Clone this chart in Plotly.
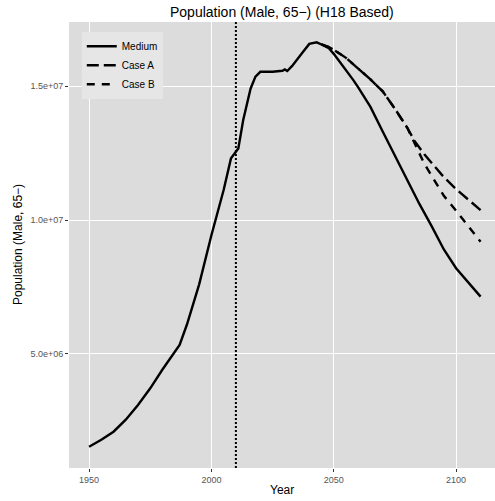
import plotly.graph_objects as go

# Male population aged 65 and over, H18-based projections
medium_years = [1950, 1955, 1960, 1965, 1970, 1975, 1980, 1985, 1987, 1990, 1995,
                2000, 2005, 2008, 2010, 2011, 2013, 2015, 2016, 2018, 2020, 2025,
                2029, 2030, 2031, 2033, 2035, 2037, 2040, 2043, 2045, 2048, 2050,
                2055, 2058, 2060, 2065, 2070, 2075, 2080, 2085, 2090, 2095, 2100,
                2105, 2110]
medium_pop = [1.54e6, 1.80e6, 2.10e6, 2.55e6, 3.10e6, 3.72e6, 4.42e6, 5.05e6, 5.34e6,
              6.10e6, 7.60e6, 9.43e6, 1.112e7, 1.23e7, 1.255e7, 1.267e7, 1.373e7,
              1.445e7, 1.49e7, 1.535e7, 1.553e7, 1.553e7, 1.557e7, 1.562e7, 1.556e7,
              1.575e7, 1.60e7, 1.622e7, 1.657e7, 1.663e7, 1.655e7, 1.641e7, 1.62e7,
              1.56e7, 1.522e7, 1.495e7, 1.422e7, 1.33e7, 1.24e7, 1.15e7, 1.06e7,
              9.77e6, 8.90e6, 8.20e6, 7.68e6, 7.14e6]

case_years = [2045, 2048, 2050, 2055, 2060, 2065, 2070, 2075, 2080, 2083, 2087,
              2090, 2095, 2100, 2105, 2110]
case_a_pop = [1.655e7, 1.645e7, 1.635e7, 1.605e7, 1.565e7, 1.525e7, 1.48e7, 1.415e7,
              1.345e7, 1.295e7, 1.245e7, 1.213e7, 1.16e7, 1.115e7, 1.075e7, 1.037e7]
case_b_pop = [1.655e7, 1.645e7, 1.635e7, 1.605e7, 1.565e7, 1.525e7, 1.48e7, 1.415e7,
              1.345e7, 1.285e7, 1.21e7, 1.165e7, 1.09e7, 1.035e7, 9.75e6, 9.19e6]

base_year = 2010
x_ticks = [1950, 2000, 2050, 2100]
y_ticks = [5.0e6, 1.0e7, 1.5e7]
y_tick_text = ["5.0e+06", "1.0e+07", "1.5e+07"]

FONT = "Liberation Sans, Arial, sans-serif"

fig = go.Figure()
fig.add_trace(go.Scatter(x=medium_years, y=medium_pop, mode="lines", name="Medium",
                         line=dict(color="black", width=2.4)))
fig.add_trace(go.Scatter(x=case_years, y=case_a_pop, mode="lines", name="Case A",
                         line=dict(color="black", width=2.4, dash="12px,5px")))
fig.add_trace(go.Scatter(x=case_years, y=case_b_pop, mode="lines", name="Case B",
                         line=dict(color="black", width=2.4, dash="8px,7px")))

# reference year marker
fig.add_shape(type="line", xref="x", yref="paper", x0=base_year, x1=base_year,
              y0=0, y1=1, line=dict(color="black", width=2, dash="2px,2px"))

fig.update_layout(
    width=495, height=501,
    margin=dict(l=69, r=0, t=22, b=33),
    paper_bgcolor="white",
    plot_bgcolor="#dcdcdc",
    font=dict(family=FONT, color="black"),
    showlegend=True,
    legend=dict(x=0.03, y=0.978, xanchor="left", yanchor="top",
                bgcolor="#e6e6e6", borderwidth=0,
                font=dict(size=10, family=FONT, color="black"),
                itemwidth=30, tracegroupgap=0),
    annotations=[
        dict(text="Population (Male, 65\u2212) (H18 Based)", xref="paper", yref="paper",
             x=0.5, y=1, yshift=10, showarrow=False, xanchor="center", yanchor="middle",
             font=dict(size=14, family=FONT, color="black")),
        dict(text="Year", xref="paper", yref="paper", x=0.5, y=0, yshift=-22,
             showarrow=False, xanchor="center", yanchor="middle",
             font=dict(size=12, family=FONT, color="black")),
        dict(text="Population (Male, 65\u2212)", xref="paper", yref="paper",
             x=0, xshift=-51, y=0.5, textangle=-90, showarrow=False,
             xanchor="center", yanchor="middle",
             font=dict(size=12, family=FONT, color="black")),
    ],
)

fig.update_xaxes(range=[1941.8, 2115.9], tickvals=x_ticks,
                 ticks="outside", ticklen=3, tickcolor="#333333", tickwidth=1,
                 tickfont=dict(size=9, color="#555555", family=FONT),
                 showgrid=True, gridcolor="white", gridwidth=1.3,
                 zeroline=False, showline=False)
fig.update_yaxes(range=[0.746e6, 1.7388e7], tickvals=y_ticks, ticktext=y_tick_text,
                 ticks="outside", ticklen=3, tickcolor="#333333", tickwidth=1,
                 tickfont=dict(size=9, color="#555555", family=FONT),
                 showgrid=True, gridcolor="white", gridwidth=1.3,
                 zeroline=False, showline=False)

fig.write_html("out.html")
